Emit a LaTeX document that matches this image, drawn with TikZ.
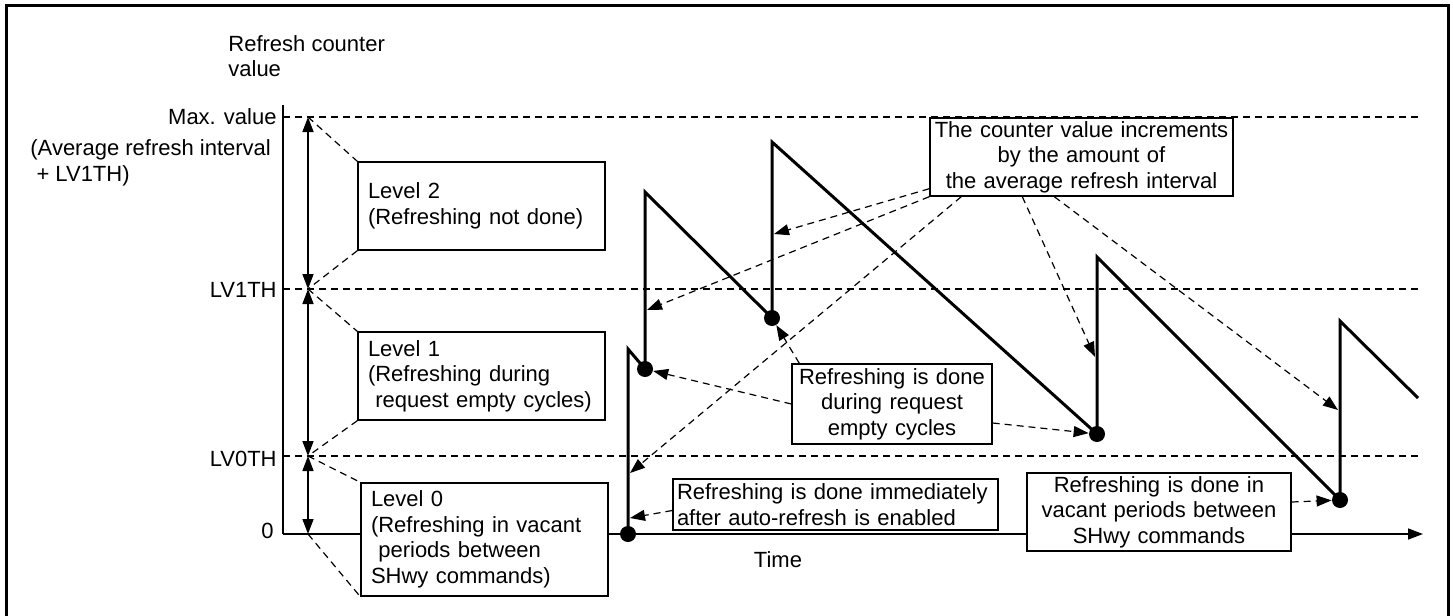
\documentclass[tikz,border=0pt]{standalone}
\usepackage{fontspec}
\setmainfont{Liberation Sans}
\usetikzlibrary{arrows.meta}
\hyphenpenalty=10000

\begin{document}
\begin{tikzpicture}[x=0.5pt,y=-0.5pt,inner sep=0pt,
  font=\fontsize{11}{12.8}\selectfont,
  tip/.style={-{Triangle[length=7.5pt,width=5.5pt]}},
  both/.style={{Triangle[length=7.5pt,width=5.5pt]}-{Triangle[length=7.5pt,width=5.5pt]}},
  guide/.style={dash pattern=on 3.5pt off 2.5pt,line width=0.6pt},
  note/.style={draw,fill=white,line width=0.7pt,align=center},
  lvl/.style={draw,fill=white,line width=0.7pt,inner xsep=5pt,align=left,
    text width=113.5pt,minimum height=44pt},
  dot/.style={circle,fill,minimum size=8pt}]
\useasboundingbox (0,0) rectangle (1453,616);
\draw[line width=1.5pt] (6,616) -- (6,5) -- (1448,5) -- (1448,616);

% axes and thresholds
\draw[line width=0.8pt] (283,105) -- (283,534);
\draw[line width=0.8pt,tip] (283,534) -- (1423,534);
\foreach \y in {117,289,456}
  \draw[guide] (283,\y) -- (1422,\y);
\node[anchor=west,align=left] (ylab) at (228,56) {Refresh counter\\value};
\node[anchor=east] (maxlab) at (277,117) {Max. value};
\node[anchor=west,align=left] (avglab) at (30,163) {(Average refresh interval\\\ + LV1TH)};
\node[anchor=east] (lv1lab) at (277,290) {LV1TH};
\node[anchor=east] (lv0lab) at (277,459) {LV0TH};
\node[anchor=east] (zlab) at (274,531) {0};
\node (time) at (778,560) {Time};

% level ranges
\coordinate (m3) at (308,117);
\coordinate (m2) at (308,289);
\coordinate (m1) at (308,456);
\coordinate (m0) at (308,534);
\draw[line width=0.8pt,both] (m3) -- (m2);
\draw[line width=0.8pt,both] (m2) -- (m1);
\draw[line width=0.8pt,both] (m1) -- (m0);
\node[lvl] (lv2) at (481.5,206) {Level 2\\(Refreshing not done)};
\node[lvl] (lv1) at (481.5,376) {Level 1\\(Refreshing during\\\ request empty cycles)};
\node[lvl,minimum height=56.5pt] (lv0) at (484.5,539.5)
  {Level 0\\(Refreshing in vacant\\\ periods between\\SHwy commands)};
\draw[guide] (m3) -- (lv2.north west);
\draw[guide] (lv2.south west) -- (m2);
\draw[guide] (m2) -- (lv1.north west);
\draw[guide] (lv1.south west) -- (m1);
\draw[guide] (m1) -- (lv0.north west);
\draw[guide] (m0) -- (lv0.south west);

% counter value
\node[dot] (d0) at (628,534) {};
\node[dot] (d1) at (645,369) {};
\node[dot] (d2) at (772,318) {};
\node[dot] (d3) at (1097,434) {};
\node[dot] (d4) at (1340,500) {};
\draw[line width=1.5pt] (d0.center) -- (628,349) -- (d1.center) -- (645,192)
  -- (d2.center) -- (772,142) -- (d3.center) -- (1097,257)
  -- (d4.center) -- (1340,321) -- (1418,398);
\coordinate (j0) at (630,473);
\coordinate (j1) at (647,310);
\coordinate (j2) at (774,234);
\coordinate (j3) at (1095,357);
\coordinate (j4) at (1338,410);
\coordinate (j5) at (630,518);

% notes
\node[note,text width=151.5pt,minimum height=39pt] (cnt) at (1081.5,157)
  {The counter value increments\\by the amount of\\the average refresh interval};
\node[note,text width=100pt,minimum height=40pt] (dur) at (892,404)
  {Refreshing is done\\during request\\empty cycles};
\node[note,align=left,inner xsep=2pt,text width=158.5pt,minimum height=25.5pt] (imm)
  at (835.5,504.5) {Refreshing is done immediately\\after auto-refresh is enabled};
\node[note,text width=132pt,minimum height=39pt] (shw) at (1159,512)
  {Refreshing is done in\\vacant periods between\\SHwy commands};

\draw[guide,tip] ([yshift=4pt]cnt.south west) -- (j2);
\draw[guide,tip] (cnt.south west) -- (j1);
\draw[guide,tip] ([xshift=16pt]cnt.south west) -- (j0);
\draw[guide,tip] ([xshift=46.5pt]cnt.south west) -- (j3);
\draw[guide,tip] ([xshift=62.5pt]cnt.south west) -- (j4);
\draw[guide,tip] ([xshift=4pt]dur.north west) -- (d2);
\draw[guide,tip] (dur.west) -- (d1);
\draw[guide,tip] ([yshift=-9.5pt]dur.east) -- (d3);
\draw[guide,tip] ([yshift=-3pt]imm.west) -- (j5);
\draw[guide,tip] ([yshift=5pt]shw.east) -- (d4);
\end{tikzpicture}
\end{document}
